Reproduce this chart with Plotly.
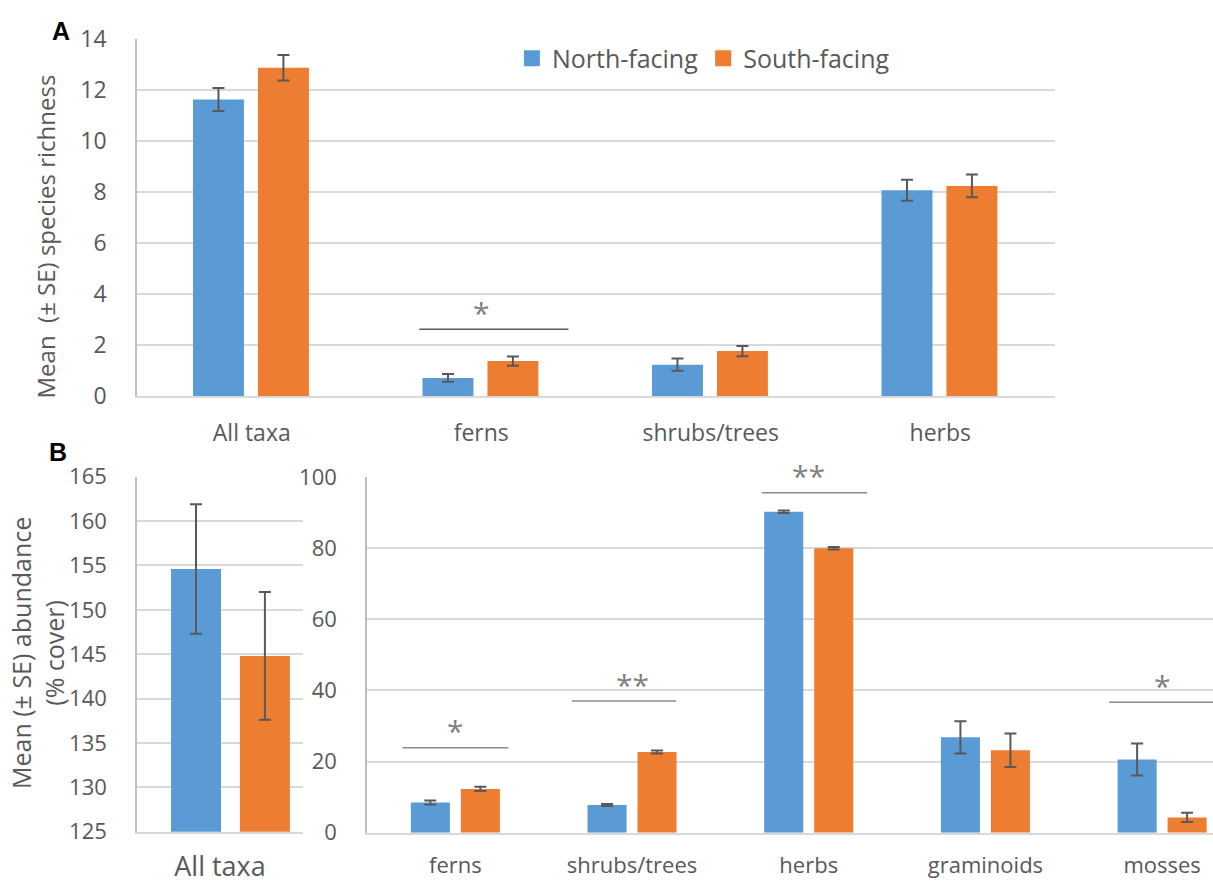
import plotly.graph_objects as go

# ---------------- data ----------------
groups = ["North-facing", "South-facing"]

# Panel A: species richness
cats_A = ["All taxa", "ferns", "shrubs/trees", "herbs"]
north_A = [11.63, 0.71, 1.23, 8.07]
north_A_se = [0.45, 0.15, 0.24, 0.41]
south_A = [12.87, 1.37, 1.76, 8.24]
south_A_se = [0.50, 0.18, 0.20, 0.45]
ticks_A = [0, 2, 4, 6, 8, 10, 12, 14]

# Panel B (left): total abundance
cats_B_total = ["All taxa"]
north_B_total = [154.6]
north_B_total_se = [7.3]
south_B_total = [144.8]
south_B_total_se = [7.2]
ticks_B_total = [125, 130, 135, 140, 145, 150, 155, 160, 165]

# Panel B (right): abundance by group
cats_B = ["ferns", "shrubs/trees", "herbs", "graminoids", "mosses"]
north_B = [8.5, 7.8, 90.2, 26.8, 20.6]
north_B_se = [0.55, 0.3, 0.35, 4.5, 4.5]
south_B = [12.3, 22.7, 80.0, 23.2, 4.3]
south_B_se = [0.6, 0.4, 0.35, 4.7, 1.3]
ticks_B = [0, 20, 40, 60, 80, 100]

# axis titles
title_A = "Mean  (± SE) species richness"
title_B = "Mean (± SE) abundance<br>(% cover)"

# significance marks: (category, label)
sig_A = [("ferns", "*")]
sig_B = [("ferns", "*"), ("shrubs/trees", "**"), ("herbs", "**"), ("mosses", "*")]

# ---------------- style ----------------
BLUE = "#5B9BD5"
ORANGE = "#ED7D31"
TXT = "#595959"
GRID = "#D9D9D9"
FONT = "Open Sans"
W, H = 1213, 885

fig = go.Figure()


def add_pair(cats, n, nse, s, sse, xa, ya, width, off_n, off_s):
    for vals, se, col, off, name in [(n, nse, BLUE, off_n, groups[0]),
                                     (s, sse, ORANGE, off_s, groups[1])]:
        fig.add_trace(go.Bar(
            x=cats, y=vals, name=name, xaxis=xa, yaxis=ya,
            marker=dict(color=col, line=dict(width=0)),
            width=width, offset=off, showlegend=False,
            error_y=dict(type="data", array=se, visible=True,
                         color=TXT, thickness=2, width=6),
        ))


add_pair(cats_A, north_A, north_A_se, south_A, south_A_se, "x", "y",
         0.222, -0.256, 0.027)
add_pair(cats_B_total, north_B_total, north_B_total_se, south_B_total,
         south_B_total_se, "x2", "y2", 0.301, -0.295, 0.120)
add_pair(cats_B, north_B, north_B_se, south_B, south_B_se, "x3", "y3",
         0.221, -0.252, 0.031)

# legend proxies (square markers)
for name, col in zip(groups, [BLUE, ORANGE]):
    fig.add_trace(go.Scatter(x=[None], y=[None], mode="markers", name=name,
                             xaxis="x", yaxis="y",
                             marker=dict(symbol="square", size=16, color=col)))

yA = dict(domain=[1 - 396 / H, 1 - 39 / H], range=[0, 14], tickvals=ticks_A,
          showgrid=True, gridcolor=GRID, gridwidth=1.5, zeroline=False,
          showline=True, linecolor="#BFBFBF", linewidth=1.5, automargin=False,
          ticks="outside", ticklen=24, tickcolor="rgba(0,0,0,0)",
          tickfont=dict(family=FONT, size=23, color=TXT), anchor="x")
xA = dict(domain=[137 / W, 1055 / W], range=[-0.5, 3.5], type="category",
          showgrid=False, showline=True, linecolor=GRID, linewidth=1.5,
          automargin=False,
          ticks="outside", ticklen=16, tickcolor="rgba(0,0,0,0)",
          tickfont=dict(family=FONT, size=23, color=TXT), anchor="y")

yB1 = dict(domain=[1 - 831.7 / H, 1 - 476.7 / H], range=[125, 165],
           tickvals=ticks_B_total, automargin=False,
           showgrid=True, gridcolor=GRID, gridwidth=1.5, zeroline=False,
           showline=True, linecolor="#BFBFBF", linewidth=1.5,
           ticks="outside", ticklen=24, tickcolor="rgba(0,0,0,0)",
           tickfont=dict(family=FONT, size=22, color=TXT), anchor="x2")
xB1 = dict(domain=[137 / W, 303 / W], range=[-0.5, 0.5], type="category",
           showgrid=False, showline=True, linecolor=GRID, linewidth=1.5,
           automargin=False,
           ticks="outside", ticklen=10, tickcolor="rgba(0,0,0,0)",
           tickfont=dict(family=FONT, size=27, color=TXT), anchor="y2")

yB2 = dict(domain=[1 - 832.7 / H, 1 - 477 / H], range=[0, 100], tickvals=ticks_B,
           showgrid=True, gridcolor=GRID, gridwidth=1.5, zeroline=False,
           showline=True, linecolor="#BFBFBF", linewidth=1.5, automargin=False,
           ticks="outside", ticklen=24, tickcolor="rgba(0,0,0,0)",
           tickfont=dict(family=FONT, size=22, color=TXT), anchor="x3")
xB2 = dict(domain=[367 / W, 1.0], range=[-0.5, 4.288], type="category",
           showgrid=False, showline=True, linecolor=GRID, linewidth=1.5,
           automargin=False,
           ticks="outside", ticklen=12, tickcolor="rgba(0,0,0,0)",
           tickfont=dict(family=FONT, size=22, color=TXT), anchor="y3")

fig.update_layout(
    width=W, height=H, margin=dict(l=0, r=0, t=0, b=0, autoexpand=False),
    paper_bgcolor="white", plot_bgcolor="white",
    barmode="overlay",
    font=dict(family=FONT, color=TXT),
    xaxis=xA, yaxis=yA, xaxis2=xB1, yaxis2=yB1, xaxis3=xB2, yaxis3=yB2,
    showlegend=True,
    legend=dict(orientation="h", x=0.422, xanchor="left", y=1 - 58.5 / H,
                yanchor="middle", font=dict(family=FONT, size=25, color=TXT),
                bgcolor="rgba(0,0,0,0)", itemsizing="trace"),
)

# y-axis titles
fig.add_annotation(xref="paper", yref="paper", x=45 / W, y=1 - 236.5 / H,
                   text=title_A, textangle=-90, showarrow=False,
                   xanchor="center", yanchor="middle",
                   font=dict(family=FONT, size=24, color=TXT))
fig.add_annotation(xref="paper", yref="paper", x=37.5 / W, y=1 - 653.5 / H,
                   text=title_B, textangle=-90, showarrow=False,
                   xanchor="center", yanchor="middle",
                   font=dict(family=FONT, size=25, color=TXT))

# significance bars
line_spec_A = {"ferns": (2.62, -0.27, 0.38)}
line_spec_B = {"ferns": (23.9, -0.30, 0.30), "shrubs/trees": (37.0, -0.34, 0.25),
               "herbs": (95.6, -0.265, 0.33), "mosses": (36.7, -0.30, 0.288)}


def add_sig(sigs, cats, spec, xref, yref, linecol, fsize):
    for cat, lab in sigs:
        i = cats.index(cat)
        yv, a, b = spec[cat]
        fig.add_shape(type="line", xref=xref, yref=yref, x0=i + a, x1=i + b,
                      y0=yv, y1=yv, line=dict(color=linecol, width=1.5))
        fig.add_annotation(xref=xref, yref=yref, x=i, y=yv, text=lab,
                           showarrow=False, yanchor="middle", yshift=17,
                           font=dict(family=FONT, size=fsize, color="#7F7F7F"))


add_sig(sig_A, cats_A, line_spec_A, "x", "y", "#595959", 30)
add_sig(sig_B, cats_B, line_spec_B, "x3", "y3", "#8C8C8C", 30)

# panel letters
for lab, px, py in [("A", 61, 31), ("B", 58, 452)]:
    fig.add_annotation(xref="paper", yref="paper", x=px / W, y=1 - py / H,
                       text="<b>%s</b>" % lab, showarrow=False,
                       xanchor="center", yanchor="middle",
                       font=dict(family="Liberation Sans", size=25, color="black"))

fig.write_html("out.html")
